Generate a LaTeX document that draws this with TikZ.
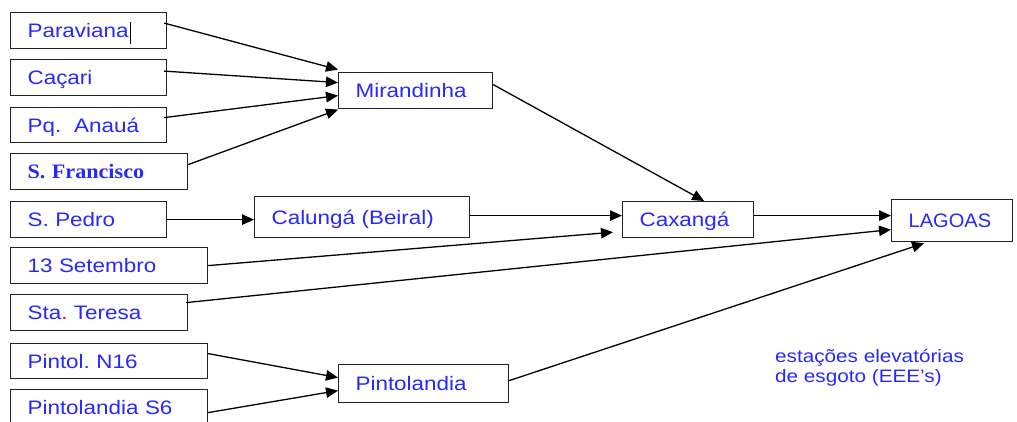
\documentclass[tikz,border=0pt]{standalone}
\usepackage{fontspec}
\setmainfont[FakeStretch=1.15]{Liberation Sans}
\newfontfamily\plainsans[FakeStretch=1.03]{Liberation Sans}
\newfontfamily\serifbold[FakeStretch=1.08]{Liberation Serif}
\usetikzlibrary{arrows.meta}
\definecolor{lblue}{RGB}{40,40,250}
\definecolor{boxgray}{RGB}{35,35,35}
\frenchspacing
\begin{document}
\begin{tikzpicture}[x=1pt,y=-1pt,
  station/.style={draw=boxgray, line width=1.2pt, anchor=north west,
    minimum height=36pt, inner xsep=17pt, inner ysep=0pt, align=left,
    text height=14pt, text depth=0pt, text=lblue,
    font=\fontsize{19.5pt}{23pt}\selectfont},
  flow/.style={draw=black, line width=1.3pt,
    -{Triangle[length=12pt,width=10.5pt]}}]
\useasboundingbox (0,0) rectangle (1017,422);
\fill[white] (0,0) rectangle (1017,422);

% pumping stations, left column
\node[station, text width=122pt] (para) at (10,12)
  {Paraviana\hspace{1.5pt}\textcolor{black}{\rule[-6pt]{0.9pt}{22pt}}};
\node[station, text width=122pt] (cacari) at (10,59) {Caçari};
\node[station, text width=122pt, minimum height=35pt] (anaua) at (10,107) {Pq.\ \ Anauá};
\node[station, text width=143pt] (sfran) at (10,153)
  {\serifbold\bfseries\fontsize{20.5pt}{23pt}\selectfont S. Francisco};
\node[station, text width=122pt] (spedro) at (10,201) {S. Pedro};
\node[station, text width=163pt] (set13) at (10,247) {13 Setembro};
\node[station, text width=143pt] (teresa) at (10,294) {Sta\textcolor{red}{.} Teresa};
\node[station, text width=163pt, minimum height=35pt] (n16) at (10,343) {Pintol. N16};
\node[station, text width=163pt] (s6) at (10,389) {Pintolandia S6};

% intermediate stations
\node[station, text width=120pt] (mirand) at (338,72) {Mirandinha};
\node[station, text width=181pt, minimum height=41pt] (calunga) at (254,196) {Calungá (Beiral)};
\node[station, text width=136pt, minimum height=38pt] (pintol) at (338,364) {Pintolandia};
\node[station, text width=97pt] (caxanga) at (622,201) {Caxangá};

% final destination
\node[station, text width=87pt, minimum height=42pt] (lagoas) at (891,199)
  {\plainsans LAGOAS};

% legend
\node[anchor=north west, inner sep=0pt, align=left, text=lblue,
  font=\fontsize{18pt}{20pt}\selectfont] (legend) at (775,349)
  {estações elevatórias\\de esgoto (EEE’s)};

% flows into Mirandinha
\draw[flow] ([xshift=-3pt,yshift=7.5pt]para.east) -- ([yshift=21pt]mirand.west);
\draw[flow] ([xshift=-3pt,yshift=6.5pt]cacari.east) -- ([yshift=8pt]mirand.west);
\draw[flow] ([xshift=-3pt,yshift=7.5pt]anaua.east) -- ([yshift=-5pt]mirand.west);
\draw[flow] ([yshift=7pt]sfran.east) -- ([yshift=-19pt]mirand.west);

% flows into Caxangá
\draw[flow] ([yshift=6pt]mirand.east) -- ([xshift=16pt]caxanga.north);
\draw[flow] (spedro.east) -- (spedro.east -| calunga.west);
\draw[flow] ([yshift=1.5pt]calunga.east) -- ([yshift=1.5pt]calunga.east -| caxanga.west);
\draw[flow] (set13.east) -- ([xshift=-9pt,yshift=6pt]caxanga.south west);

% flows into LAGOAS
\draw[flow] ([yshift=4pt]caxanga.east) -- ([yshift=4pt]caxanga.east -| lagoas.west);
\draw[flow] ([xshift=-2pt,yshift=10pt]teresa.east) -- ([yshift=-9pt]lagoas.west);
\draw[flow] ([yshift=3pt]pintol.east) -- ([xshift=-28pt,yshift=-1pt]lagoas.south);

% flows into Pintolandia
\draw[flow] ([yshift=7.5pt]n16.east) -- ([yshift=6pt]pintol.west);
\draw[flow] ([yshift=-5pt]s6.east) -- ([yshift=-7pt]pintol.west);
\end{tikzpicture}
\end{document}
